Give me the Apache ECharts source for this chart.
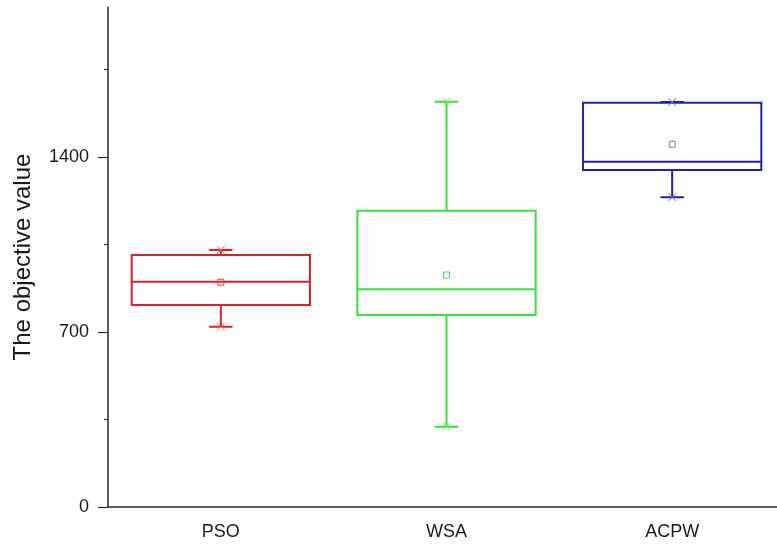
<!DOCTYPE html>
<html>
<head>
<meta charset="utf-8">
<script src="https://cdn.jsdelivr.net/npm/echarts@6/dist/echarts.min.js"></script>
<style>html,body{margin:0;padding:0;background:#fff;}#c{width:777px;height:545px;}</style>
</head>
<body>
<div id="c"></div>
<script>
const categories = ['PSO', 'WSA', 'ACPW'];
const lowerWhisker = [721, 321, 1239];
const q1 = [808, 768, 1348];
const median = [901, 871, 1381];
const q3 = [1008, 1185, 1617];
const upperWhisker = [1028, 1621, 1620];
const mean = [899, 928, 1451];
const yMajorTicks = [0, 700, 1400];
const yMinorTicks = [350, 1050, 1750];
const yName = 'The objective value';

const colors = ['#d8232a', '#38e038', '#2121b0'];
const meanColors = ['#d04545', '#66c466', '#7a7acc'];
const markColors = ['#e06a6a', '#7ee07e', '#6a6ac8'];
const FONT = 'Liberation Sans, Arial, sans-serif';

const data = categories.map((c, i) => [i, lowerWhisker[i], q1[i], median[i], q3[i], upperWhisker[i], mean[i]]);

const chart = echarts.init(document.getElementById('c'), null, {renderer: 'canvas'});
chart.setOption({
  animation: false,
  backgroundColor: '#fff',
  grid: {left: 108, right: -8, top: 7, bottom: 38, containLabel: false, outerBoundsMode: 'none'},
  xAxis: {
    type: 'category',
    data: categories,
    boundaryGap: true,
    axisLine: {lineStyle: {color: '#2a2a2a', width: 1.5}},
    axisTick: {alignWithLabel: true, length: 8, lineStyle: {color: '#2a2a2a', width: 1.2}},
    axisLabel: {fontSize: 18, color: '#1a1a1a', fontFamily: FONT, margin: 16},
    splitLine: {show: false}
  },
  yAxis: [{
    type: 'value',
    min: 0, max: 2000,
    position: 'left',
    name: yName,
    nameLocation: 'middle',
    nameGap: 73,
    nameTextStyle: {fontSize: 24, color: '#1a1a1a', fontFamily: FONT},
    axisLine: {show: true, lineStyle: {color: '#2a2a2a', width: 1.5}},
    axisTick: {show: true, length: 10, customValues: yMajorTicks, lineStyle: {color: '#2a2a2a', width: 1.2}},
    axisLabel: {fontSize: 18, color: '#1a1a1a', fontFamily: FONT, margin: 19, customValues: yMajorTicks, formatter: v => String(v)},
    splitLine: {show: false}
  }, {
    type: 'value',
    min: 0, max: 2000,
    position: 'left',
    offset: 0,
    axisLine: {show: false},
    axisTick: {show: true, length: 4, customValues: yMinorTicks, lineStyle: {color: '#2a2a2a', width: 1.2}},
    axisLabel: {show: false},
    splitLine: {show: false}
  }],
  series: [{
    type: 'custom',
    data: data,
    encode: {x: 0, y: [1, 5]},
    renderItem: function (params, api) {
      const i = api.value(0);
      const cx = api.coord([i, 0])[0];
      const band = api.size([1, 0])[0];
      const bw = band * 0.79;
      const cw = band * 0.052;
      const y = v => api.coord([i, v])[1];
      const c = colors[i];
      const ls = {stroke: c, lineWidth: 2, fill: null};
      const yLo = y(api.value(1)), yQ1 = y(api.value(2)), yMed = y(api.value(3)), yQ3 = y(api.value(4)), yHi = y(api.value(5)), yMean = y(api.value(6));
      const line = (x1, y1, x2, y2, style) => ({type: 'line', shape: {x1, y1, x2, y2}, style});
      const xm = (yy) => {
        const s = 4, mc = markColors[i];
        const st = {stroke: mc, lineWidth: 1};
        return [line(cx - s, yy - s, cx + s, yy + s, st), line(cx - s, yy + s, cx + s, yy - s, st)];
      };
      return {
        type: 'group',
        children: [
          {type: 'rect', shape: {x: cx - bw / 2, y: yQ3, width: bw, height: yQ1 - yQ3}, style: {stroke: c, lineWidth: 2, fill: null}},
          line(cx - bw / 2, yMed, cx + bw / 2, yMed, ls),
          line(cx, yQ3, cx, yHi, ls),
          line(cx, yQ1, cx, yLo, ls),
          line(cx - cw, yHi, cx + cw, yHi, ls),
          line(cx - cw, yLo, cx + cw, yLo, ls),
          ...xm(yHi), ...xm(yLo),
          {type: 'rect', shape: {x: cx - 3, y: yMean - 3, width: 6, height: 6}, style: {stroke: meanColors[i], lineWidth: 1, fill: null}}
        ]
      };
    }
  }]
});
</script>
</body>
</html>
